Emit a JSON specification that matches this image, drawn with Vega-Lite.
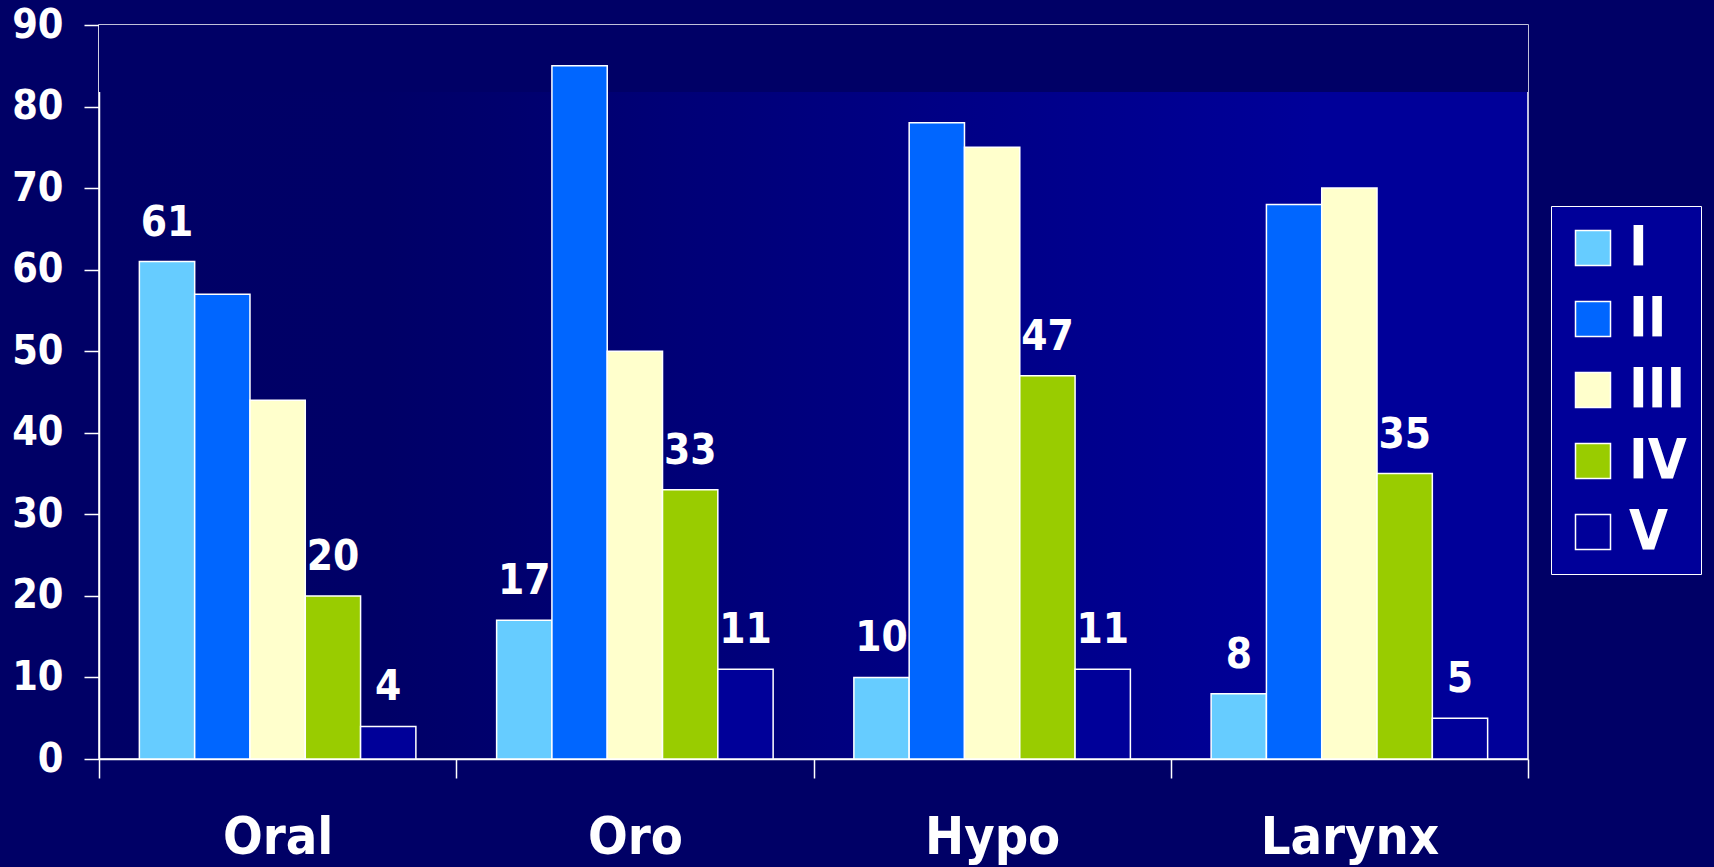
{
  "$schema": "https://vega.github.io/schema/vega-lite/v6.json",
  "autosize": {"type": "none"},
  "padding": {"left": 99, "top": 25, "right": 186, "bottom": 108},
  "width": 1429,
  "height": 734,
  "background": "#000066",
  "config": {
    "font": "DejaVu Sans Condensed",
    "view": {
      "fill": {
        "gradient": "linear",
        "x1": 0, "y1": 0, "x2": 1, "y2": 0,
        "stops": [
          {"offset": 0, "color": "#000066"},
          {"offset": 0.2, "color": "#000067"},
          {"offset": 0.85, "color": "#000099"},
          {"offset": 1, "color": "#000099"}
        ]
      },
      "stroke": "#ffffff",
      "strokeWidth": 1.5
    },
    "axis": {
      "domainColor": "#ffffff",
      "domainWidth": 1.5,
      "tickColor": "#ffffff",
      "tickWidth": 1.5,
      "labelColor": "#ffffff",
      "labelFontWeight": "bold",
      "labelFont": "DejaVu Sans Condensed",
      "labelLimit": 0,
      "grid": false,
      "title": null
    }
  },
  "datasets": {
    "stages": [
      {"site": "Oral", "stage": "I", "value": 61},
      {"site": "Oral", "stage": "II", "value": 57},
      {"site": "Oral", "stage": "III", "value": 44},
      {"site": "Oral", "stage": "IV", "value": 20},
      {"site": "Oral", "stage": "V", "value": 4},
      {"site": "Oro", "stage": "I", "value": 17},
      {"site": "Oro", "stage": "II", "value": 85},
      {"site": "Oro", "stage": "III", "value": 50},
      {"site": "Oro", "stage": "IV", "value": 33},
      {"site": "Oro", "stage": "V", "value": 11},
      {"site": "Hypo", "stage": "I", "value": 10},
      {"site": "Hypo", "stage": "II", "value": 78},
      {"site": "Hypo", "stage": "III", "value": 75},
      {"site": "Hypo", "stage": "IV", "value": 47},
      {"site": "Hypo", "stage": "V", "value": 11},
      {"site": "Larynx", "stage": "I", "value": 8},
      {"site": "Larynx", "stage": "II", "value": 68},
      {"site": "Larynx", "stage": "III", "value": 70},
      {"site": "Larynx", "stage": "IV", "value": 35},
      {"site": "Larynx", "stage": "V", "value": 5}
    ]
  },
  "layer": [
    {
      "data": {"values": [{}]},
      "mark": {"type": "rect", "color": "#000066"},
      "encoding": {
        "y": {"datum": 81.8, "type": "quantitative"},
        "y2": {"datum": 90}
      }
    },
    {
      "data": {"name": "stages"},
      "mark": {"type": "bar", "stroke": "#ffffff", "strokeWidth": 1.5},
      "encoding": {
        "x": {
          "field": "site", "type": "nominal",
          "sort": ["Oral", "Oro", "Hypo", "Larynx"],
          "scale": {"paddingInner": 0, "paddingOuter": 0},
          "axis": {
            "labelAngle": 0,
            "tickBand": "extent",
            "tickSize": 19,
            "labelPadding": 34,
            "labelFontSize": 52
          }
        },
        "xOffset": {
          "field": "stage", "type": "nominal",
          "sort": ["I", "II", "III", "IV", "V"],
          "scale": {"paddingInner": 0, "paddingOuter": 0.73}
        },
        "y": {
          "field": "value", "type": "quantitative",
          "scale": {"domain": [0, 90], "nice": false},
          "axis": {
            "values": [0, 10, 20, 30, 40, 50, 60, 70, 80, 90],
            "tickSize": 15,
            "labelPadding": 21,
            "labelFontSize": 41
          }
        },
        "color": {
          "field": "stage", "type": "nominal",
          "scale": {
            "domain": ["I", "II", "III", "IV", "V"],
            "range": ["#66ccff", "#0066ff", "#ffffcc", "#99cc00", "#000099"]
          },
          "legend": {
            "title": null,
            "orient": "none",
            "legendX": 1452,
            "legendY": 181,
            "direction": "vertical",
            "fillColor": "#000099",
            "strokeColor": "#ffffff",
            "padding": 14,
            "symbolType": "square",
            "symbolSize": 1225,
            "symbolStrokeColor": "#ffffff",
            "symbolStrokeWidth": 1.5,
            "symbolOpacity": 1,
            "labelFontSize": 56,
            "labelFontWeight": "bold",
            "labelColor": "#ffffff",
            "labelFont": "DejaVu Sans Condensed",
            "labelOffset": 8,
            "rowPadding": 15
          }
        }
      }
    },
    {
      "data": {"name": "stages"},
      "transform": [{"filter": {"field": "stage", "oneOf": ["I", "IV", "V"]}}],
      "mark": {
        "type": "text",
        "fontSize": 42,
        "fontWeight": "bold",
        "color": "#ffffff",
        "baseline": "alphabetic",
        "align": "center",
        "dy": -26
      },
      "encoding": {
        "x": {"field": "site", "type": "nominal", "sort": ["Oral", "Oro", "Hypo", "Larynx"]},
        "xOffset": {"field": "stage", "type": "nominal", "sort": ["I", "II", "III", "IV", "V"]},
        "y": {"field": "value", "type": "quantitative"},
        "text": {"field": "value", "type": "quantitative"}
      }
    }
  ]
}
